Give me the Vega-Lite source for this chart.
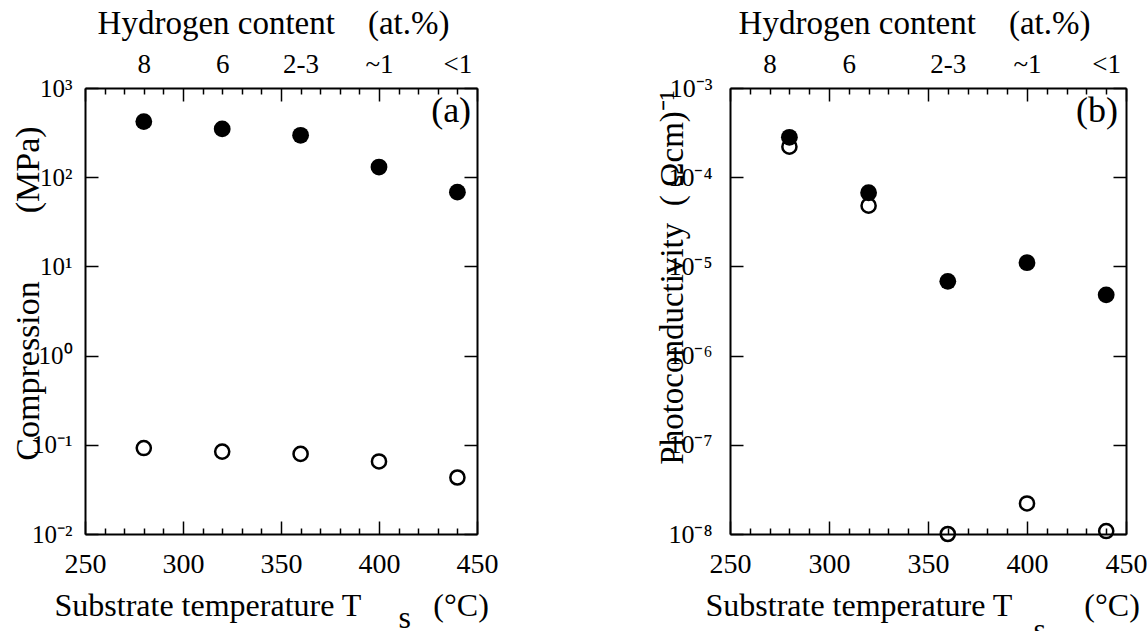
{
  "$schema": "https://vega.github.io/schema/vega-lite/v6.json",
  "padding": {"left": 11, "top": 7, "right": 0, "bottom": 0},
  "bounds": "flush",
  "spacing": 253,
  "config": {
    "font": "Liberation Serif",
    "view": {"stroke": null},
    "axis": {
      "domainColor": "black", "domainWidth": 2,
      "tickColor": "black", "tickWidth": 1.5,
      "labelColor": "black", "titleColor": "black",
      "labelFont": "Liberation Serif", "titleFont": "Liberation Serif",
      "titleFontWeight": "normal", "grid": false,
      "labelFlush": false, "labelOverlap": false
    }
  },
  "datasets": {
    "compression": [
      {"T": 280, "value": 420, "kind": "filled"},
      {"T": 320, "value": 348, "kind": "filled"},
      {"T": 360, "value": 295, "kind": "filled"},
      {"T": 400, "value": 130, "kind": "filled"},
      {"T": 440, "value": 68, "kind": "filled"},
      {"T": 280, "value": 0.092, "kind": "open"},
      {"T": 320, "value": 0.084, "kind": "open"},
      {"T": 360, "value": 0.079, "kind": "open"},
      {"T": 400, "value": 0.065, "kind": "open"},
      {"T": 440, "value": 0.043, "kind": "open"}
    ],
    "photo": [
      {"T": 280, "value": 0.00028, "kind": "filled"},
      {"T": 320, "value": 0.000067, "kind": "filled"},
      {"T": 360, "value": 0.0000068, "kind": "filled"},
      {"T": 400, "value": 0.000011, "kind": "filled"},
      {"T": 440, "value": 0.0000048, "kind": "filled"},
      {"T": 280, "value": 0.00022, "kind": "open"},
      {"T": 320, "value": 0.000048, "kind": "open"},
      {"T": 360, "value": 0.00000001, "kind": "open"},
      {"T": 400, "value": 0.000000022, "kind": "open"},
      {"T": 440, "value": 0.0000000108, "kind": "open"}
    ],
    "panelA": [{"label": "(a)", "T": 447, "value": 552}],
    "panelB": [{"label": "(b)", "T": 446, "value": 0.00055}]
  },
  "hconcat": [
    {
      "width": 392, "height": 446,
      "data": {"name": "compression"},
      "resolve": {"axis": {"x": "independent", "y": "independent"}},
      "layer": [
        {
          "transform": [{"filter": "datum.kind == 'filled'"}],
          "mark": {"type": "point", "shape": "circle", "filled": true, "size": 283, "color": "black", "opacity": 1},
          "encoding": {
            "x": {"field": "T", "type": "quantitative",
              "scale": {"domain": [250, 450], "nice": false, "zero": false},
              "axis": {"orient": "bottom", "values": [250,260,270,280,290,300,310,320,330,340,350,360,370,380,390,400,410,420,430,440,450],
                "format": "d", "labelExpr": "datum.value % 50 === 0 ? datum.label : ''",
                "labelFontSize": 28, "labelPadding": 29,
                "tickSize": {"condition": {"test": "datum.value % 50 === 0", "value": -13}, "value": -6},
                "title": ["Substrate temperature T\u00a0\u00a0\u00a0\u00a0\u00a0\u00a0\u00a0\u00a0\u00a0(°C)", "\u200b\u00a0\u00a0\u00a0\u00a0\u00a0\u00a0\u00a0\u00a0\u00a0\u00a0\u00a0\u00a0\u00a0\u00a0\u00a0\u00a0\u00a0\u00a0\u00a0\u00a0\u00a0\u00a0\u00a0\u00a0\u00a0\u00a0\u00a0\u00a0\u00a0\u00a0\u00a0\u00a0\u00a0\u00a0\u00a0\u00a0\u00a0\u00a0\u00a0\u00a0\u00a0\u00a0\u00a0s"],
                "titleFontSize": 32, "titleAlign": "left", "titleBaseline": "top", "titleX": -31, "titleY": 56, "titleLineHeight": 12, "titleAngle": 0}},
            "y": {"field": "value", "type": "quantitative",
              "scale": {"type": "log", "domain": [0.01, 1000], "nice": false},
              "axis": {"orient": "left", "values": [0.01, 0.1, 1, 10, 100, 1000],
                "labelExpr": "['10\u207b\u00b2','10\u207b\u00b9','10\u2070','10\u00b9','10\u00b2','10\u00b3'][round(log(datum.value)/LN10)+2]",
                "labelFontSize": 25, "labelPadding": 26, "tickSize": -13,
                "title": "Compression\u00a0\u00a0\u00a0\u00a0\u00a0\u00a0\u00a0\u00a0(MPa)",
                "titleFontSize": 34, "titleAngle": -90, "titleAlign": "center", "titleBaseline": "middle", "titleX": -57, "titleY": 205}}
          }
        },
        {
          "transform": [{"filter": "datum.kind == 'open'"}],
          "mark": {"type": "point", "shape": "circle", "filled": false, "size": 200, "color": "black", "strokeWidth": 2.5, "opacity": 1},
          "encoding": {
            "x": {"field": "T", "type": "quantitative",
              "scale": {"domain": [250, 450], "nice": false, "zero": false},
              "axis": {"orient": "top", "values": [250,260,270,280,290,300,310,320,330,340,350,360,370,380,390,400,410,420,430,440,450],
                "labelExpr": "datum.value == 280 ? '8' : datum.value == 320 ? '6' : datum.value == 360 ? '2-3' : datum.value == 400 ? '~1' : datum.value == 440 ? '<1' : ''",
                "labelFontSize": 27,
                "labelPadding": {"condition": {"test": "datum.value % 50 === 0", "value": 23}, "value": 16},
                "tickSize": {"condition": {"test": "datum.value % 50 === 0", "value": -13}, "value": -6},
                "title": "Hydrogen content\u00a0\u00a0\u00a0\u00a0(at.%)",
                "titleFontSize": 33, "titleAlign": "center", "titleBaseline": "middle", "titleX": 188, "titleY": -65, "titleAngle": 0}},
            "y": {"field": "value", "type": "quantitative",
              "scale": {"type": "log", "domain": [0.01, 1000], "nice": false},
              "axis": {"orient": "right", "values": [0.01, 0.1, 1, 10, 100, 1000], "labels": false, "tickSize": -13, "title": null}}
          }
        },
        {
          "data": {"name": "panelA"},
          "mark": {"type": "text", "fontSize": 36, "fontWeight": "normal", "font": "Liberation Serif", "align": "right", "baseline": "middle", "color": "black"},
          "encoding": {
            "text": {"field": "label"},
            "x": {"field": "T", "type": "quantitative", "axis": null},
            "y": {"field": "value", "type": "quantitative", "axis": null}
          }
        }
      ]
    },
    {
      "width": 396, "height": 446,
      "data": {"name": "photo"},
      "resolve": {"axis": {"x": "independent", "y": "independent"}},
      "layer": [
        {
          "transform": [{"filter": "datum.kind == 'filled'"}],
          "mark": {"type": "point", "shape": "circle", "filled": true, "size": 283, "color": "black", "opacity": 1},
          "encoding": {
            "x": {"field": "T", "type": "quantitative",
              "scale": {"domain": [250, 450], "nice": false, "zero": false},
              "axis": {"orient": "bottom", "values": [250,260,270,280,290,300,310,320,330,340,350,360,370,380,390,400,410,420,430,440,450],
                "format": "d", "labelExpr": "datum.value % 50 === 0 ? datum.label : ''",
                "labelFontSize": 28, "labelPadding": 29,
                "tickSize": {"condition": {"test": "datum.value % 50 === 0", "value": -13}, "value": -6},
                "title": ["Substrate temperature T\u00a0\u00a0\u00a0\u00a0\u00a0\u00a0\u00a0\u00a0\u00a0(°C)", "\u200b\u00a0\u00a0\u00a0\u00a0\u00a0\u00a0\u00a0\u00a0\u00a0\u00a0\u00a0\u00a0\u00a0\u00a0\u00a0\u00a0\u00a0\u00a0\u00a0\u00a0\u00a0\u00a0\u00a0\u00a0\u00a0\u00a0\u00a0\u00a0\u00a0\u00a0\u00a0\u00a0\u00a0\u00a0\u00a0\u00a0\u00a0\u00a0\u00a0\u00a0\u00a0s"],
                "titleFontSize": 32, "titleAlign": "left", "titleBaseline": "top", "titleX": -25, "titleY": 56, "titleLineHeight": 24, "titleAngle": 0}},
            "y": {"field": "value", "type": "quantitative",
              "scale": {"type": "log", "domain": [0.00000001, 0.001], "nice": false},
              "axis": {"orient": "left", "values": [0.00000001, 0.0000001, 0.000001, 0.00001, 0.0001, 0.001],
                "labelExpr": "['10\u207b\u2078','10\u207b\u2077','10\u207b\u2076','10\u207b\u2075','10\u207b\u2074','10\u207b\u00b3'][round(log(datum.value)/LN10)+8]",
                "labelFontSize": 26, "labelPadding": 31, "tickSize": -13,
                "title": "Photoconductivity\u00a0\u00a0(\u00a0\u03a9cm)\u207b\u00b9",
                "titleFontSize": 33, "titleAngle": -90, "titleAlign": "center", "titleBaseline": "middle", "titleX": -58, "titleY": 189}}
          }
        },
        {
          "transform": [{"filter": "datum.kind == 'open'"}],
          "mark": {"type": "point", "shape": "circle", "filled": false, "size": 200, "color": "black", "strokeWidth": 2.5, "opacity": 1},
          "encoding": {
            "x": {"field": "T", "type": "quantitative",
              "scale": {"domain": [250, 450], "nice": false, "zero": false},
              "axis": {"orient": "top", "values": [250,260,270,280,290,300,310,320,330,340,350,360,370,380,390,400,410,420,430,440,450],
                "labelExpr": "datum.value == 270 ? '8' : datum.value == 310 ? '6' : datum.value == 360 ? '2-3' : datum.value == 400 ? '~1' : datum.value == 440 ? '<1' : ''",
                "labelFontSize": 27,
                "labelPadding": {"condition": {"test": "datum.value % 50 === 0", "value": 23}, "value": 16},
                "tickSize": {"condition": {"test": "datum.value % 50 === 0", "value": -13}, "value": -6},
                "title": "Hydrogen content\u00a0\u00a0\u00a0\u00a0(at.%)",
                "titleFontSize": 33, "titleAlign": "center", "titleBaseline": "middle", "titleX": 184, "titleY": -65, "titleAngle": 0}},
            "y": {"field": "value", "type": "quantitative",
              "scale": {"type": "log", "domain": [0.00000001, 0.001], "nice": false},
              "axis": {"orient": "right", "values": [0.00000001, 0.0000001, 0.000001, 0.00001, 0.0001, 0.001], "labels": false, "tickSize": -13, "title": null}}
          }
        },
        {
          "data": {"name": "panelB"},
          "mark": {"type": "text", "fontSize": 36, "fontWeight": "normal", "font": "Liberation Serif", "align": "right", "baseline": "middle", "color": "black"},
          "encoding": {
            "text": {"field": "label"},
            "x": {"field": "T", "type": "quantitative", "axis": null},
            "y": {"field": "value", "type": "quantitative", "axis": null}
          }
        }
      ]
    }
  ]
}
